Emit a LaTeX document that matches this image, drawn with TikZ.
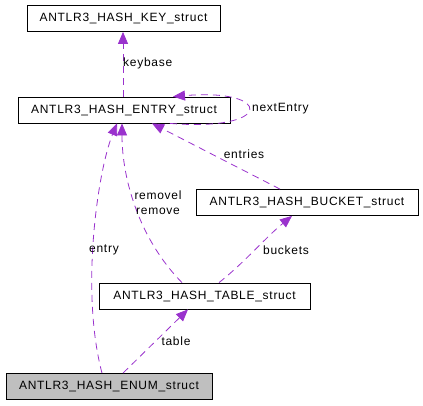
\documentclass[tikz,border=0pt]{standalone}
\usepackage{fontspec}
\setmainfont{Liberation Sans}[LetterSpace=6]
\usetikzlibrary{arrows.meta}
\definecolor{edgec}{HTML}{9A32CD}
\definecolor{fillc}{HTML}{BFBFBF}
\begin{document}
\begin{tikzpicture}[x=1pt,y=-1pt,
  every node/.style={font=\fontsize{12}{15}\selectfont, inner sep=0pt},
  box/.style={draw=black, line width=0.8pt, minimum height=26pt, anchor=center},
  rel/.style={draw=edgec, line width=0.8pt, dash pattern=on 7pt off 5pt, -{Triangle[length=12pt,width=10pt]}},
  lbl/.style={text=black}]
\useasboundingbox (0,0) rectangle (423,405);
\node[box, minimum width=193pt] (key) at (123.5,18.5) {ANTLR3\_HASH\_KEY\_struct};
\node[box, minimum width=212pt] (entry) at (124,110) {ANTLR3\_HASH\_ENTRY\_struct};
\node[box, minimum width=222pt] (bucket) at (307,202.5) {ANTLR3\_HASH\_BUCKET\_struct};
\node[box, minimum width=211pt] (table) at (204.5,296) {ANTLR3\_HASH\_TABLE\_struct};
\node[box, minimum width=206pt, fill=fillc] (enum) at (109,386.5) {ANTLR3\_HASH\_ENUM\_struct};
% keybase
\draw[rel] ([xshift=-1pt]entry.north) -- ([xshift=-0.5pt]key.south);
\node[lbl, anchor=west] (lkeybase) at (123,63) {keybase};
% nextEntry
\draw[rel] ([xshift=46pt]entry.south) .. controls (274,132) and (274,88) .. ([xshift=49pt]entry.north);
\node[lbl, anchor=west] (lnext) at (252,109) {nextEntry};
% entries
\draw[rel] ([xshift=-27pt]bucket.north) -- ([xshift=28pt]entry.south);
\node[lbl] (lentries) at (244,154) {entries};
% remove
\draw[rel] ([xshift=-22.5pt]table.north) .. controls (140,240) and (122,180) .. ([xshift=-2pt]entry.south);
\node[lbl, align=center] (lremove) at (158,203) {removel\\remove};
% entry
\draw[rel] ([xshift=-7pt]enum.north) .. controls (80,290) and (98,170) .. ([xshift=-7pt]entry.south);
\node[lbl] (lentry) at (104,250) {entry};
% buckets
\draw[rel] ([xshift=14.5pt]table.north) .. controls (245,262) and (265,238) .. ([xshift=-15pt]bucket.south);
\node[lbl] (lbuckets) at (286,250) {buckets};
% table
\draw[rel] ([xshift=14pt]enum.north) -- ([xshift=-16.5pt]table.south);
\node[lbl] (ltable) at (176,341) {table};
\end{tikzpicture}
\end{document}
